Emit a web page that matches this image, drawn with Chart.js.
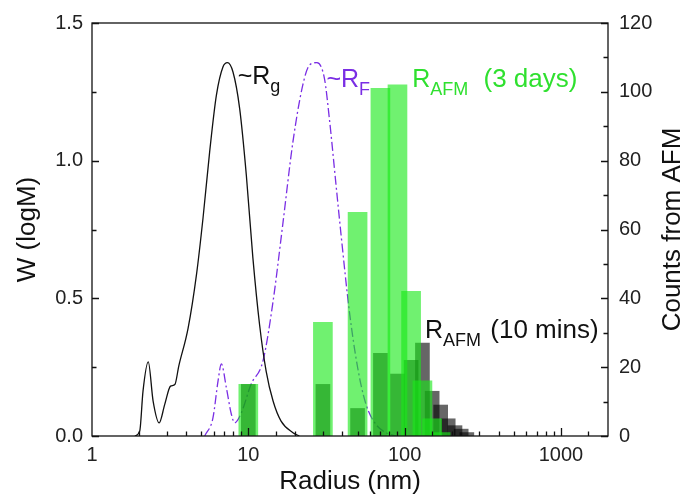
<!DOCTYPE html>
<html>
<head>
<meta charset="utf-8">
<title>Radius distribution</title>
<script src="https://cdn.jsdelivr.net/npm/chart.js@4.4.1/dist/chart.umd.min.js"></script>
<style>
    body { margin: 0; background: #fff; }
    canvas { display: block; }
</style>
</head>
<body>
<canvas id="myChart" width="686" height="501"></canvas>
<script>
// GPC curve, radius of gyration (nm) vs W(logM)
var rgRadius = [1.88, 2.02, 2.12, 2.29, 2.46, 2.69, 2.92, 3.18, 3.39, 3.59, 4.12, 4.66, 5.13, 5.66, 6.25, 6.89, 7.35, 7.98, 8.80, 9.71, 10.7, 11.8, 13.0, 14.4, 16.2, 19.3, 21.2];
var rgW = [0, 0.018, 0.163, 0.269, 0.127, 0.048, 0.115, 0.181, 0.187, 0.254, 0.392, 0.586, 0.791, 1.033, 1.238, 1.341, 1.356, 1.322, 1.19, 0.948, 0.646, 0.405, 0.236, 0.127, 0.054, 0.012, 0];

// Flory radius estimate
var rfRadius = [5.26, 5.94, 6.40, 6.72, 7.24, 7.79, 8.18, 9.02, 10.4, 12.4, 14.4, 16.6, 19.3, 22.3, 24.6, 27.5, 30.7, 33.0, 36.4, 39.2, 44.3, 50.1, 56.6, 65.6, 76, 88];
var rfW = [0, 0.066, 0.199, 0.262, 0.175, 0.079, 0.048, 0.084, 0.187, 0.272, 0.489, 0.767, 1.069, 1.274, 1.347, 1.356, 1.298, 1.153, 0.912, 0.731, 0.453, 0.247, 0.115, 0.042, 0.012, 0];

// AFM histograms, 20 nm bins
var afmRadius3Days = [10, 30, 50, 70, 90, 110, 130, 150, 170];
var afmCounts3Days = [15, 33, 65, 101, 102, 42, 16, 5, 1];
var afmRadius10Mins = [10, 30, 50, 70, 90, 110, 130, 150, 170, 190, 210, 230, 250];
var afmCounts10Mins = [15, 15, 8, 24, 18, 22, 27, 13, 9, 5, 3, 2, 1];

var radiusLabels = [1, 10, 100, 1000];

var FONT = '"Liberation Sans", Arial, sans-serif';
var GREEN = '#2fe02f';
var PURPLE = '#7a2ee4';

function toPoints(xs, ys) {
    return xs.map(function(x, i) { return {x: x, y: ys[i]}; });
}

function isDecade(v) {
    return radiusLabels.indexOf(v) !== -1;
}

// text with a subscript, e.g. R_AFM
function subText(ctx, x, y, main, sub, tail, color, gap) {
    ctx.fillStyle = color;
    ctx.textBaseline = 'alphabetic';
    ctx.textAlign = 'left';
    ctx.font = '25px ' + FONT;
    ctx.fillText(main, x, y);
    x += ctx.measureText(main).width;
    ctx.font = '18px ' + FONT;
    ctx.fillText(sub, x, y + 8);
    x += ctx.measureText(sub).width;
    if (tail) {
        ctx.font = '26px ' + FONT;
        ctx.fillText(tail, x + gap, y);
    }
}

// box, inward ticks, curve labels and right-hand title
var frame = {
    id: 'frame',
    afterDraw: function(chart) {
        var ctx = chart.ctx;
        var a = chart.chartArea;
        var sx = chart.scales.x, sy = chart.scales.y, sy1 = chart.scales.y1;
        ctx.save();
        ctx.strokeStyle = '#111';
        ctx.lineWidth = 1.3;
        ctx.strokeRect(a.left, a.top, a.right - a.left, a.bottom - a.top);

        ctx.beginPath();
        sx.ticks.forEach(function(t) {
            if (t.value <= sx.min || t.value >= sx.max) return;
            var px = Math.round(sx.getPixelForValue(t.value)) + 0.5;
            var len = isDecade(t.value) ? 8 : 4.5;
            ctx.moveTo(px, a.bottom);
            ctx.lineTo(px, a.bottom - len);
        });
        sy.ticks.forEach(function(t) {
            var py = Math.round(sy.getPixelForValue(t.value)) + 0.5;
            var len = (Math.round(t.value * 100) % 50 === 0) ? 7 : 4.5;
            ctx.moveTo(a.left, py);
            ctx.lineTo(a.left + len, py);
        });
        sy1.ticks.forEach(function(t) {
            var py = Math.round(sy1.getPixelForValue(t.value)) + 0.5;
            var len = (t.value % 20 === 0) ? 7 : 4.5;
            ctx.moveTo(a.right, py);
            ctx.lineTo(a.right - len, py);
        });
        ctx.stroke();

        subText(ctx, sx.getPixelForValue(8.55), sy.getPixelForValue(1.279), '~R', 'g', '', '#111', 0);
        subText(ctx, sx.getPixelForValue(31.6), sy.getPixelForValue(1.268), '~R', 'F', '', PURPLE, 0);
        subText(ctx, sx.getPixelForValue(111.8), sy.getPixelForValue(1.268), 'R', 'AFM', ' (3 days)', GREEN, 8);
        subText(ctx, sx.getPixelForValue(135), sy.getPixelForValue(0.355), 'R', 'AFM', ' (10 mins)', '#111', 2);

        // right axis title reads bottom to top
        ctx.translate(673, (a.top + a.bottom) / 2);
        ctx.rotate(-Math.PI / 2);
        ctx.font = '26px ' + FONT;
        ctx.fillStyle = '#111';
        ctx.textAlign = 'center';
        ctx.textBaseline = 'middle';
        ctx.fillText('Counts from AFM', 0, 0);
        ctx.restore();
    }
};

Chart.defaults.font.family = FONT;
Chart.defaults.color = '#222';

var ctx = document.getElementById('myChart').getContext('2d');
var chart = new Chart(ctx, {
    type: 'bar',
    data: {
        datasets: [{
            label: 'R_AFM (3 days)',
            data: toPoints(afmRadius3Days, afmCounts3Days),
            yAxisID: 'y1',
            backgroundColor: 'rgba(25, 232, 25, 0.62)',
            borderWidth: 0,
            barThickness: 19,
            grouped: false,
            order: 1
        }, {
            label: 'R_AFM (10 mins)',
            data: toPoints(afmRadius10Mins, afmCounts10Mins),
            yAxisID: 'y1',
            backgroundColor: 'rgba(0, 0, 0, 0.6)',
            borderWidth: 0,
            barThickness: 14,
            grouped: false,
            order: 2
        }, {
            type: 'line',
            label: '~Rg',
            data: toPoints(rgRadius, rgW),
            yAxisID: 'y',
            borderColor: '#111',
            borderWidth: 1.3,
            pointRadius: 0,
            cubicInterpolationMode: 'monotone',
            fill: false,
            order: 3
        }, {
            type: 'line',
            label: '~RF',
            data: toPoints(rfRadius, rfW),
            yAxisID: 'y',
            borderColor: PURPLE,
            borderWidth: 1.3,
            borderDash: [9, 3, 2, 3],
            pointRadius: 0,
            cubicInterpolationMode: 'monotone',
            fill: false,
            order: 3
        }]
    },
    options: {
        responsive: false,
        animation: false,
        layout: { padding: { top: 21, left: 0, right: 0, bottom: 0 } },
        plugins: {
            legend: { display: false },
            tooltip: { enabled: false }
        },
        scales: {
            x: {
                type: 'logarithmic',
                min: 1,
                max: 2000,
                offset: false,
                grid: { display: false, drawTicks: false, offset: false },
                border: { display: false },
                ticks: {
                    autoSkip: false,
                    maxRotation: 0,
                    padding: 7,
                    color: '#222',
                    font: { size: 20 },
                    callback: function(value) {
                        return isDecade(value) ? String(value) : '';
                    }
                },
                title: {
                    display: true,
                    text: 'Radius (nm)',
                    color: '#111',
                    font: { size: 26 },
                    padding: { top: 0, bottom: 4 }
                },
                afterFit: function(s) { s.height = 65; }
            },
            y: {
                position: 'left',
                min: 0,
                max: 1.5,
                grid: { display: false, drawTicks: false },
                border: { display: false },
                ticks: {
                    stepSize: 0.25,
                    autoSkip: false,
                    padding: 9,
                    color: '#222',
                    font: { size: 20 },
                    callback: function(value) {
                        return Math.round(value * 100) % 50 === 0 ? value.toFixed(1) : '';
                    }
                },
                title: {
                    display: true,
                    text: 'W (logM)',
                    color: '#111',
                    font: { size: 26 },
                    padding: { top: 12, bottom: 0 }
                },
                afterFit: function(s) { s.width = 92; }
            },
            y1: {
                position: 'right',
                min: 0,
                max: 120,
                grid: { display: false, drawTicks: false },
                border: { display: false },
                ticks: {
                    stepSize: 10,
                    autoSkip: false,
                    padding: 11,
                    color: '#222',
                    font: { size: 20 },
                    callback: function(value) {
                        return value % 20 === 0 ? String(value) : '';
                    }
                },
                afterFit: function(s) { s.width = 78; }
            }
        }
    },
    plugins: [frame]
});
</script>
</body>
</html>
